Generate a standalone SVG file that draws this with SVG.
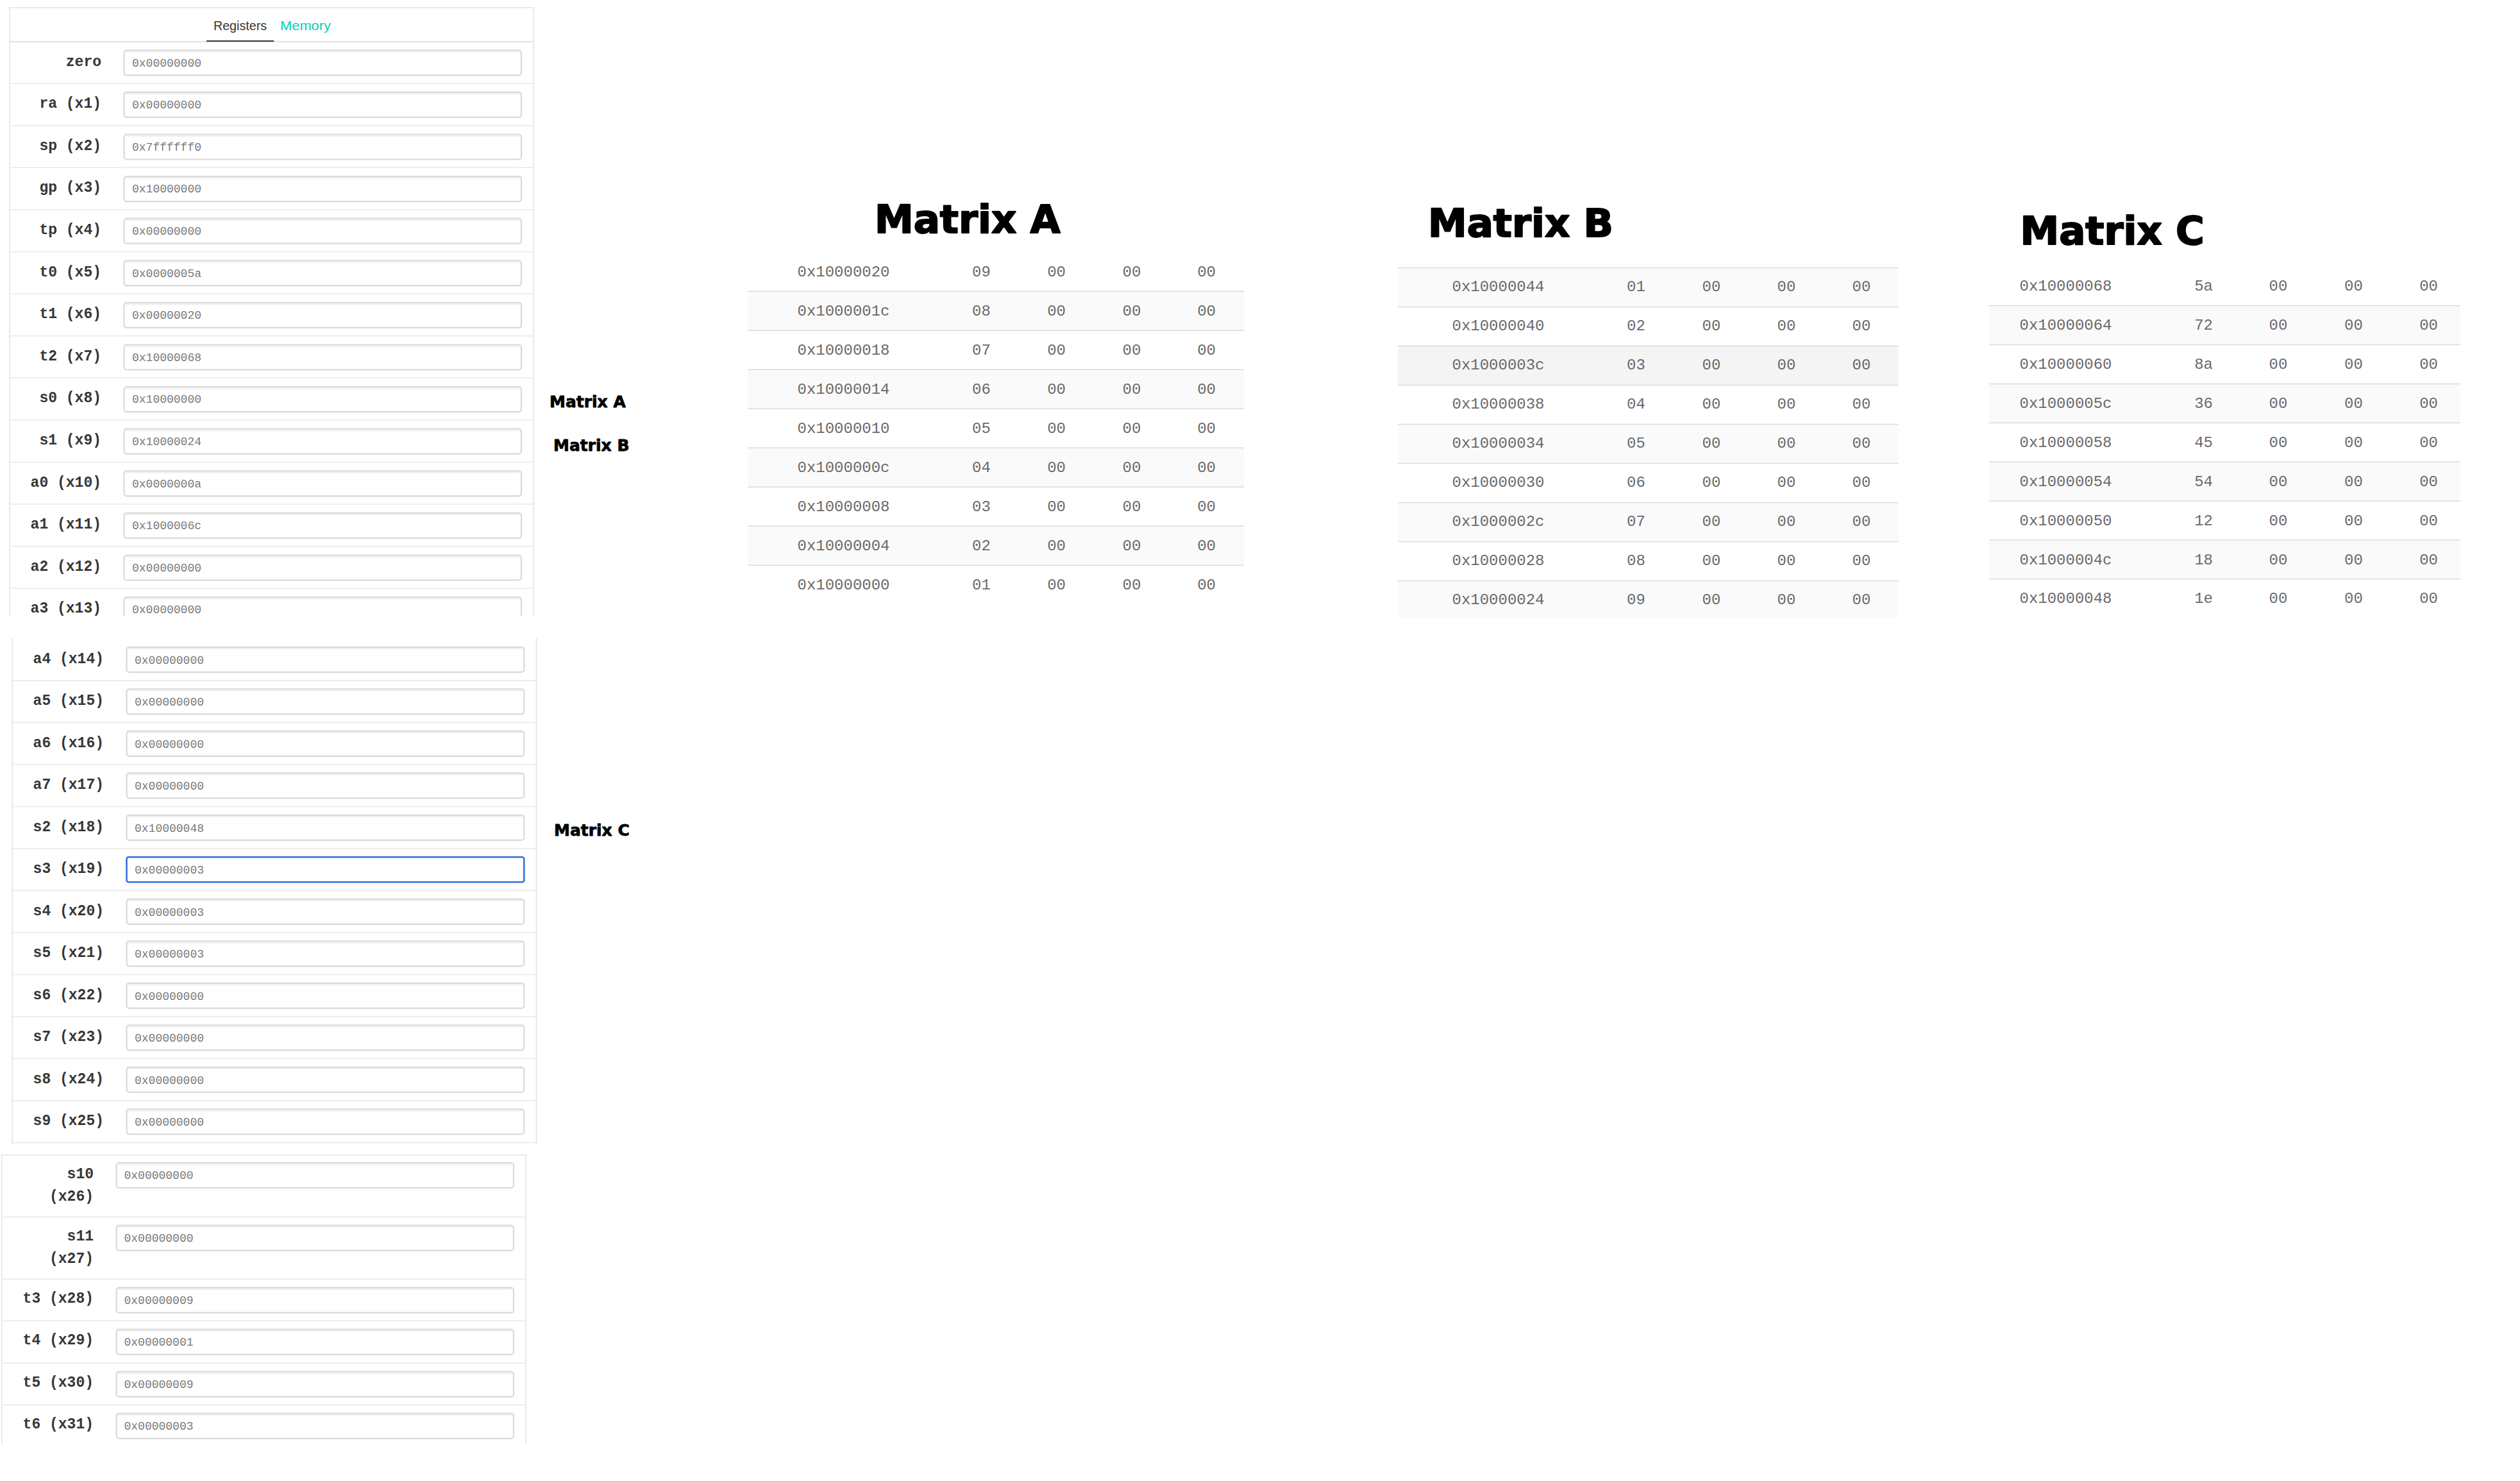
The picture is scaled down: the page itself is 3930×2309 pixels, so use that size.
<svg xmlns="http://www.w3.org/2000/svg" width="3930" height="2309" viewBox="0 0 3930 2309">
<style>
.bg{fill:#ffffff}
.pb{stroke:#e3e3e3;stroke-width:1.5;fill:none}
.sep{stroke:#e8e8e8;stroke-width:1.5}
.box{fill:#ffffff;stroke:#d9d9d9;stroke-width:2.2}
.boxf{fill:#ffffff;stroke:#3273dc;stroke-width:2.6}
.shd{stroke:#efefef;stroke-width:2}
.lbl{font-family:"Liberation Mono","DejaVu Sans Mono",monospace;font-weight:bold;font-size:23px;fill:#363636;text-anchor:end}
.val{font-family:"Liberation Mono","DejaVu Sans Mono",monospace;font-size:18px;fill:#7a7a7a}
.tab{font-family:"Liberation Sans",Arial,sans-serif;font-size:21px}
.ttl{font-family:"DejaVu Sans","Liberation Sans",sans-serif;font-weight:bold;font-size:61px;fill:#000;stroke:#000;stroke-width:2;stroke-linejoin:round}
.side{font-family:"DejaVu Sans","Liberation Sans",sans-serif;font-weight:bold;font-size:25px;fill:#000;stroke:#000;stroke-width:0.8;stroke-linejoin:round}
.mt{font-family:"Liberation Mono","DejaVu Sans Mono",monospace;font-size:24px;fill:#6a6a6a}
.mc{font-family:"Liberation Mono","DejaVu Sans Mono",monospace;font-size:24px;fill:#6a6a6a;text-anchor:middle}
.tl{stroke:#dbdbdb;stroke-width:1.5}
.st{fill:#fafafa}
.hv{fill:#f4f4f4}
</style>
<defs>
<clipPath id="clip1"><rect x="0" y="0" width="850" height="960"/></clipPath>
<clipPath id="clip3"><rect x="0" y="1795" width="850" height="457"/></clipPath>
</defs>
<rect class="bg" x="0" y="0" width="3930" height="2309"/>

<g id="registers-panel-1" clip-path="url(#clip1)">
<path class="pb" d="M15,960 V12 H832 V960"/>
<text class="tab" x="333" y="46.7" fill="#363636" textLength="83" lengthAdjust="spacingAndGlyphs">Registers</text>
<text class="tab" x="437" y="46.7" fill="#00d1b2" textLength="79" lengthAdjust="spacingAndGlyphs">Memory</text>
<line x1="15" y1="65" x2="832" y2="65" stroke="#e3e3e3" stroke-width="2"/>
<line x1="322" y1="64" x2="427" y2="64" stroke="#363636" stroke-width="2"/>
<g class="sep">
<line x1="15" y1="130.1" x2="832" y2="130.1"/><line x1="15" y1="195.7" x2="832" y2="195.7"/>
<line x1="15" y1="261.3" x2="832" y2="261.3"/><line x1="15" y1="326.9" x2="832" y2="326.9"/>
<line x1="15" y1="392.5" x2="832" y2="392.5"/><line x1="15" y1="458.1" x2="832" y2="458.1"/>
<line x1="15" y1="523.7" x2="832" y2="523.7"/><line x1="15" y1="589.3" x2="832" y2="589.3"/>
<line x1="15" y1="654.9" x2="832" y2="654.9"/><line x1="15" y1="720.5" x2="832" y2="720.5"/>
<line x1="15" y1="786.1" x2="832" y2="786.1"/><line x1="15" y1="851.7" x2="832" y2="851.7"/>
<line x1="15" y1="917.3" x2="832" y2="917.3"/>
</g>
<g id="reg-zero"><text class="lbl" x="158" y="102.5">zero</text><rect class="box" x="193.5" y="78.3" width="619.5" height="39" rx="4"/><line class="shd" x1="196" y1="80.8" x2="810.5" y2="80.8"/><text class="val" x="206" y="103.5">0x00000000</text></g>
<g id="reg-x1"><text class="lbl" x="158" y="168.1">ra (x1)</text><rect class="box" x="193.5" y="143.9" width="619.5" height="39" rx="4"/><line class="shd" x1="196" y1="146.4" x2="810.5" y2="146.4"/><text class="val" x="206" y="169.1">0x00000000</text></g>
<g id="reg-x2"><text class="lbl" x="158" y="233.7">sp (x2)</text><rect class="box" x="193.5" y="209.5" width="619.5" height="39" rx="4"/><line class="shd" x1="196" y1="212" x2="810.5" y2="212"/><text class="val" x="206" y="234.7">0x7ffffff0</text></g>
<g id="reg-x3"><text class="lbl" x="158" y="299.3">gp (x3)</text><rect class="box" x="193.5" y="275.1" width="619.5" height="39" rx="4"/><line class="shd" x1="196" y1="277.6" x2="810.5" y2="277.6"/><text class="val" x="206" y="300.3">0x10000000</text></g>
<g id="reg-x4"><text class="lbl" x="158" y="364.9">tp (x4)</text><rect class="box" x="193.5" y="340.7" width="619.5" height="39" rx="4"/><line class="shd" x1="196" y1="343.2" x2="810.5" y2="343.2"/><text class="val" x="206" y="365.9">0x00000000</text></g>
<g id="reg-x5"><text class="lbl" x="158" y="430.5">t0 (x5)</text><rect class="box" x="193.5" y="406.3" width="619.5" height="39" rx="4"/><line class="shd" x1="196" y1="408.8" x2="810.5" y2="408.8"/><text class="val" x="206" y="431.5">0x0000005a</text></g>
<g id="reg-x6"><text class="lbl" x="158" y="496.1">t1 (x6)</text><rect class="box" x="193.5" y="471.9" width="619.5" height="39" rx="4"/><line class="shd" x1="196" y1="474.4" x2="810.5" y2="474.4"/><text class="val" x="206" y="497.1">0x00000020</text></g>
<g id="reg-x7"><text class="lbl" x="158" y="561.7">t2 (x7)</text><rect class="box" x="193.5" y="537.5" width="619.5" height="39" rx="4"/><line class="shd" x1="196" y1="540" x2="810.5" y2="540"/><text class="val" x="206" y="562.7">0x10000068</text></g>
<g id="reg-x8"><text class="lbl" x="158" y="627.3">s0 (x8)</text><rect class="box" x="193.5" y="603.1" width="619.5" height="39" rx="4"/><line class="shd" x1="196" y1="605.6" x2="810.5" y2="605.6"/><text class="val" x="206" y="628.3">0x10000000</text></g>
<g id="reg-x9"><text class="lbl" x="158" y="692.9">s1 (x9)</text><rect class="box" x="193.5" y="668.7" width="619.5" height="39" rx="4"/><line class="shd" x1="196" y1="671.2" x2="810.5" y2="671.2"/><text class="val" x="206" y="693.9">0x10000024</text></g>
<g id="reg-x10"><text class="lbl" x="158" y="758.5">a0 (x10)</text><rect class="box" x="193.5" y="734.3" width="619.5" height="39" rx="4"/><line class="shd" x1="196" y1="736.8" x2="810.5" y2="736.8"/><text class="val" x="206" y="759.5">0x0000000a</text></g>
<g id="reg-x11"><text class="lbl" x="158" y="824.1">a1 (x11)</text><rect class="box" x="193.5" y="799.9" width="619.5" height="39" rx="4"/><line class="shd" x1="196" y1="802.4" x2="810.5" y2="802.4"/><text class="val" x="206" y="825.1">0x1000006c</text></g>
<g id="reg-x12"><text class="lbl" x="158" y="889.7">a2 (x12)</text><rect class="box" x="193.5" y="865.5" width="619.5" height="39" rx="4"/><line class="shd" x1="196" y1="868" x2="810.5" y2="868"/><text class="val" x="206" y="890.7">0x00000000</text></g>
<g id="reg-x13"><text class="lbl" x="158" y="955.3">a3 (x13)</text><rect class="box" x="193.5" y="931.1" width="619.5" height="39" rx="4"/><line class="shd" x1="196" y1="933.6" x2="810.5" y2="933.6"/><text class="val" x="206" y="956.3">0x00000000</text></g>
</g>

<g id="registers-panel-2">
<path class="pb" d="M19.2,995.5 V1785 M836.5,995.5 V1785"/>
<g class="sep">
<line x1="19.2" y1="1061" x2="836.5" y2="1061"/><line x1="19.2" y1="1126.5" x2="836.5" y2="1126.5"/>
<line x1="19.2" y1="1192" x2="836.5" y2="1192"/><line x1="19.2" y1="1257.5" x2="836.5" y2="1257.5"/>
<line x1="19.2" y1="1323" x2="836.5" y2="1323"/><line x1="19.2" y1="1388.5" x2="836.5" y2="1388.5"/>
<line x1="19.2" y1="1454" x2="836.5" y2="1454"/><line x1="19.2" y1="1519.5" x2="836.5" y2="1519.5"/>
<line x1="19.2" y1="1585" x2="836.5" y2="1585"/><line x1="19.2" y1="1650.5" x2="836.5" y2="1650.5"/>
<line x1="19.2" y1="1716" x2="836.5" y2="1716"/><line x1="19.2" y1="1781.5" x2="836.5" y2="1781.5"/>
</g>
<g id="reg-x14"><text class="lbl" x="162" y="1033.5">a4 (x14)</text><rect class="box" x="197.5" y="1008.8" width="619.8" height="39" rx="4"/><line class="shd" x1="200" y1="1011.3" x2="814.8" y2="1011.3"/><text class="val" x="210" y="1034.5">0x00000000</text></g>
<g id="reg-x15"><text class="lbl" x="162" y="1099">a5 (x15)</text><rect class="box" x="197.5" y="1074.3" width="619.8" height="39" rx="4"/><line class="shd" x1="200" y1="1076.8" x2="814.8" y2="1076.8"/><text class="val" x="210" y="1100">0x00000000</text></g>
<g id="reg-x16"><text class="lbl" x="162" y="1164.5">a6 (x16)</text><rect class="box" x="197.5" y="1139.8" width="619.8" height="39" rx="4"/><line class="shd" x1="200" y1="1142.3" x2="814.8" y2="1142.3"/><text class="val" x="210" y="1165.5">0x00000000</text></g>
<g id="reg-x17"><text class="lbl" x="162" y="1230">a7 (x17)</text><rect class="box" x="197.5" y="1205.3" width="619.8" height="39" rx="4"/><line class="shd" x1="200" y1="1207.8" x2="814.8" y2="1207.8"/><text class="val" x="210" y="1231">0x00000000</text></g>
<g id="reg-x18"><text class="lbl" x="162" y="1295.5">s2 (x18)</text><rect class="box" x="197.5" y="1270.8" width="619.8" height="39" rx="4"/><line class="shd" x1="200" y1="1273.3" x2="814.8" y2="1273.3"/><text class="val" x="210" y="1296.5">0x10000048</text></g>
<g id="reg-x19"><text class="lbl" x="162" y="1361">s3 (x19)</text><rect class="boxf" x="197.5" y="1336.3" width="619.8" height="39" rx="3"/><text class="val" x="210" y="1362">0x00000003</text></g>
<g id="reg-x20"><text class="lbl" x="162" y="1426.5">s4 (x20)</text><rect class="box" x="197.5" y="1401.8" width="619.8" height="39" rx="4"/><line class="shd" x1="200" y1="1404.3" x2="814.8" y2="1404.3"/><text class="val" x="210" y="1427.5">0x00000003</text></g>
<g id="reg-x21"><text class="lbl" x="162" y="1492">s5 (x21)</text><rect class="box" x="197.5" y="1467.3" width="619.8" height="39" rx="4"/><line class="shd" x1="200" y1="1469.8" x2="814.8" y2="1469.8"/><text class="val" x="210" y="1493">0x00000003</text></g>
<g id="reg-x22"><text class="lbl" x="162" y="1557.5">s6 (x22)</text><rect class="box" x="197.5" y="1532.8" width="619.8" height="39" rx="4"/><line class="shd" x1="200" y1="1535.3" x2="814.8" y2="1535.3"/><text class="val" x="210" y="1558.5">0x00000000</text></g>
<g id="reg-x23"><text class="lbl" x="162" y="1623">s7 (x23)</text><rect class="box" x="197.5" y="1598.3" width="619.8" height="39" rx="4"/><line class="shd" x1="200" y1="1600.8" x2="814.8" y2="1600.8"/><text class="val" x="210" y="1624">0x00000000</text></g>
<g id="reg-x24"><text class="lbl" x="162" y="1688.5">s8 (x24)</text><rect class="box" x="197.5" y="1663.8" width="619.8" height="39" rx="4"/><line class="shd" x1="200" y1="1666.3" x2="814.8" y2="1666.3"/><text class="val" x="210" y="1689.5">0x00000000</text></g>
<g id="reg-x25"><text class="lbl" x="162" y="1754">s9 (x25)</text><rect class="box" x="197.5" y="1729.3" width="619.8" height="39" rx="4"/><line class="shd" x1="200" y1="1731.8" x2="814.8" y2="1731.8"/><text class="val" x="210" y="1755">0x00000000</text></g>
</g>

<g id="registers-panel-3" clip-path="url(#clip3)">
<path class="pb" d="M2.7,2252 V1800.7 H820 V2252"/>
<g class="sep">
<line x1="2.7" y1="1897.5" x2="820" y2="1897.5"/><line x1="2.7" y1="1994.3" x2="820" y2="1994.3"/>
<line x1="2.7" y1="2059.3" x2="820" y2="2059.3"/><line x1="2.7" y1="2125.3" x2="820" y2="2125.3"/>
<line x1="2.7" y1="2190.3" x2="820" y2="2190.3"/>
</g>
<g id="reg-x26"><text class="lbl" x="146" y="1836.7">s10</text><text class="lbl" x="146" y="1871.7">(x26)</text><rect class="box" x="181.6" y="1813" width="619.4" height="39" rx="4"/><line class="shd" x1="184" y1="1815.5" x2="798.5" y2="1815.5"/><text class="val" x="193.5" y="1838">0x00000000</text></g>
<g id="reg-x27"><text class="lbl" x="146" y="1933.5">s11</text><text class="lbl" x="146" y="1968.5">(x27)</text><rect class="box" x="181.6" y="1910.7" width="619.4" height="39" rx="4"/><line class="shd" x1="184" y1="1913.2" x2="798.5" y2="1913.2"/><text class="val" x="193.5" y="1935.7">0x00000000</text></g>
<g id="reg-x28"><text class="lbl" x="146" y="2031.3">t3 (x28)</text><rect class="box" x="181.6" y="2007.7" width="619.4" height="39" rx="4"/><line class="shd" x1="184" y1="2010.2" x2="798.5" y2="2010.2"/><text class="val" x="193.5" y="2032.7">0x00000009</text></g>
<g id="reg-x29"><text class="lbl" x="146" y="2096.3">t4 (x29)</text><rect class="box" x="181.6" y="2072.7" width="619.4" height="39" rx="4"/><line class="shd" x1="184" y1="2075.2" x2="798.5" y2="2075.2"/><text class="val" x="193.5" y="2097.7">0x00000001</text></g>
<g id="reg-x30"><text class="lbl" x="146" y="2162.3">t5 (x30)</text><rect class="box" x="181.6" y="2138.7" width="619.4" height="39" rx="4"/><line class="shd" x1="184" y1="2141.2" x2="798.5" y2="2141.2"/><text class="val" x="193.5" y="2163.7">0x00000009</text></g>
<g id="reg-x31"><text class="lbl" x="146" y="2227.3">t6 (x31)</text><rect class="box" x="181.6" y="2203.7" width="619.4" height="39" rx="4"/><line class="shd" x1="184" y1="2206.2" x2="798.5" y2="2206.2"/><text class="val" x="193.5" y="2228.7">0x00000003</text></g>
</g>

<g id="side-labels">
<text class="side" x="857" y="635.4">Matrix A</text>
<text class="side" x="863" y="702.8">Matrix B</text>
<text class="side" x="864" y="1303">Matrix C</text>
</g>

<g id="matrix-a">
<text class="ttl" x="1364" y="362.7">Matrix A</text>
<rect class="st" x="1166" y="454.3" width="774" height="61"/>
<rect class="st" x="1166" y="576.3" width="774" height="61"/>
<rect class="st" x="1166" y="698.3" width="774" height="61"/>
<rect class="st" x="1166" y="820.3" width="774" height="61"/>
<g class="tl">
<line x1="1166" y1="454.3" x2="1940" y2="454.3"/><line x1="1166" y1="515.3" x2="1940" y2="515.3"/>
<line x1="1166" y1="576.3" x2="1940" y2="576.3"/><line x1="1166" y1="637.3" x2="1940" y2="637.3"/>
<line x1="1166" y1="698.3" x2="1940" y2="698.3"/><line x1="1166" y1="759.3" x2="1940" y2="759.3"/>
<line x1="1166" y1="820.3" x2="1940" y2="820.3"/><line x1="1166" y1="881.3" x2="1940" y2="881.3"/>
</g>
<g id="ma-r0"><text class="mt" x="1243.5" y="430.6">0x10000020</text><text class="mc" x="1530.5" y="430.6">09</text><text class="mc" x="1647.6" y="430.6">00</text><text class="mc" x="1765" y="430.6">00</text><text class="mc" x="1881.6" y="430.6">00</text></g>
<g id="ma-r1"><text class="mt" x="1243.5" y="491.6">0x1000001c</text><text class="mc" x="1530.5" y="491.6">08</text><text class="mc" x="1647.6" y="491.6">00</text><text class="mc" x="1765" y="491.6">00</text><text class="mc" x="1881.6" y="491.6">00</text></g>
<g id="ma-r2"><text class="mt" x="1243.5" y="552.6">0x10000018</text><text class="mc" x="1530.5" y="552.6">07</text><text class="mc" x="1647.6" y="552.6">00</text><text class="mc" x="1765" y="552.6">00</text><text class="mc" x="1881.6" y="552.6">00</text></g>
<g id="ma-r3"><text class="mt" x="1243.5" y="613.6">0x10000014</text><text class="mc" x="1530.5" y="613.6">06</text><text class="mc" x="1647.6" y="613.6">00</text><text class="mc" x="1765" y="613.6">00</text><text class="mc" x="1881.6" y="613.6">00</text></g>
<g id="ma-r4"><text class="mt" x="1243.5" y="674.6">0x10000010</text><text class="mc" x="1530.5" y="674.6">05</text><text class="mc" x="1647.6" y="674.6">00</text><text class="mc" x="1765" y="674.6">00</text><text class="mc" x="1881.6" y="674.6">00</text></g>
<g id="ma-r5"><text class="mt" x="1243.5" y="735.6">0x1000000c</text><text class="mc" x="1530.5" y="735.6">04</text><text class="mc" x="1647.6" y="735.6">00</text><text class="mc" x="1765" y="735.6">00</text><text class="mc" x="1881.6" y="735.6">00</text></g>
<g id="ma-r6"><text class="mt" x="1243.5" y="796.6">0x10000008</text><text class="mc" x="1530.5" y="796.6">03</text><text class="mc" x="1647.6" y="796.6">00</text><text class="mc" x="1765" y="796.6">00</text><text class="mc" x="1881.6" y="796.6">00</text></g>
<g id="ma-r7"><text class="mt" x="1243.5" y="857.6">0x10000004</text><text class="mc" x="1530.5" y="857.6">02</text><text class="mc" x="1647.6" y="857.6">00</text><text class="mc" x="1765" y="857.6">00</text><text class="mc" x="1881.6" y="857.6">00</text></g>
<g id="ma-r8"><text class="mt" x="1243.5" y="918.6">0x10000000</text><text class="mc" x="1530.5" y="918.6">01</text><text class="mc" x="1647.6" y="918.6">00</text><text class="mc" x="1765" y="918.6">00</text><text class="mc" x="1881.6" y="918.6">00</text></g>
</g>

<g id="matrix-b">
<text class="ttl" x="2227" y="369.2">Matrix B</text>
<rect class="st" x="2180" y="417.4" width="780.5" height="61"/>
<rect class="hv" x="2180" y="539.4" width="780.5" height="61"/>
<rect class="st" x="2180" y="661.4" width="780.5" height="61"/>
<rect class="st" x="2180" y="783.4" width="780.5" height="61"/>
<rect class="st" x="2180" y="905.4" width="780.5" height="56.6"/>
<g class="tl">
<line x1="2180" y1="417.4" x2="2960.5" y2="417.4"/><line x1="2180" y1="478.4" x2="2960.5" y2="478.4"/>
<line x1="2180" y1="539.4" x2="2960.5" y2="539.4"/><line x1="2180" y1="600.4" x2="2960.5" y2="600.4"/>
<line x1="2180" y1="661.4" x2="2960.5" y2="661.4"/><line x1="2180" y1="722.4" x2="2960.5" y2="722.4"/>
<line x1="2180" y1="783.4" x2="2960.5" y2="783.4"/><line x1="2180" y1="844.4" x2="2960.5" y2="844.4"/>
<line x1="2180" y1="905.4" x2="2960.5" y2="905.4"/>
</g>
<g id="mb-r0"><text class="mt" x="2264.5" y="454.3">0x10000044</text><text class="mc" x="2551.5" y="454.3">01</text><text class="mc" x="2669" y="454.3">00</text><text class="mc" x="2786" y="454.3">00</text><text class="mc" x="2903" y="454.3">00</text></g>
<g id="mb-r1"><text class="mt" x="2264.5" y="515.3">0x10000040</text><text class="mc" x="2551.5" y="515.3">02</text><text class="mc" x="2669" y="515.3">00</text><text class="mc" x="2786" y="515.3">00</text><text class="mc" x="2903" y="515.3">00</text></g>
<g id="mb-r2"><text class="mt" x="2264.5" y="576.3">0x1000003c</text><text class="mc" x="2551.5" y="576.3">03</text><text class="mc" x="2669" y="576.3">00</text><text class="mc" x="2786" y="576.3">00</text><text class="mc" x="2903" y="576.3">00</text></g>
<g id="mb-r3"><text class="mt" x="2264.5" y="637.3">0x10000038</text><text class="mc" x="2551.5" y="637.3">04</text><text class="mc" x="2669" y="637.3">00</text><text class="mc" x="2786" y="637.3">00</text><text class="mc" x="2903" y="637.3">00</text></g>
<g id="mb-r4"><text class="mt" x="2264.5" y="698.3">0x10000034</text><text class="mc" x="2551.5" y="698.3">05</text><text class="mc" x="2669" y="698.3">00</text><text class="mc" x="2786" y="698.3">00</text><text class="mc" x="2903" y="698.3">00</text></g>
<g id="mb-r5"><text class="mt" x="2264.5" y="759.3">0x10000030</text><text class="mc" x="2551.5" y="759.3">06</text><text class="mc" x="2669" y="759.3">00</text><text class="mc" x="2786" y="759.3">00</text><text class="mc" x="2903" y="759.3">00</text></g>
<g id="mb-r6"><text class="mt" x="2264.5" y="820.3">0x1000002c</text><text class="mc" x="2551.5" y="820.3">07</text><text class="mc" x="2669" y="820.3">00</text><text class="mc" x="2786" y="820.3">00</text><text class="mc" x="2903" y="820.3">00</text></g>
<g id="mb-r7"><text class="mt" x="2264.5" y="881.3">0x10000028</text><text class="mc" x="2551.5" y="881.3">08</text><text class="mc" x="2669" y="881.3">00</text><text class="mc" x="2786" y="881.3">00</text><text class="mc" x="2903" y="881.3">00</text></g>
<g id="mb-r8"><text class="mt" x="2264.5" y="942.3">0x10000024</text><text class="mc" x="2551.5" y="942.3">09</text><text class="mc" x="2669" y="942.3">00</text><text class="mc" x="2786" y="942.3">00</text><text class="mc" x="2903" y="942.3">00</text></g>
</g>

<g id="matrix-c">
<text class="ttl" x="3150.5" y="381.2">Matrix C</text>
<rect class="st" x="3102" y="476.6" width="735" height="60.9"/>
<rect class="st" x="3102" y="598.4" width="735" height="60.9"/>
<rect class="st" x="3102" y="720.2" width="735" height="60.9"/>
<rect class="st" x="3102" y="842" width="735" height="60.9"/>
<g class="tl">
<line x1="3102" y1="476.6" x2="3837" y2="476.6"/><line x1="3102" y1="537.5" x2="3837" y2="537.5"/>
<line x1="3102" y1="598.4" x2="3837" y2="598.4"/><line x1="3102" y1="659.3" x2="3837" y2="659.3"/>
<line x1="3102" y1="720.2" x2="3837" y2="720.2"/><line x1="3102" y1="781.1" x2="3837" y2="781.1"/>
<line x1="3102" y1="842" x2="3837" y2="842"/><line x1="3102" y1="902.9" x2="3837" y2="902.9"/>
</g>
<g id="mc-r0"><text class="mt" x="3149.5" y="453.2">0x10000068</text><text class="mc" x="3436.6" y="453.2">5a</text><text class="mc" x="3553" y="453.2">00</text><text class="mc" x="3670.5" y="453.2">00</text><text class="mc" x="3787.6" y="453.2">00</text></g>
<g id="mc-r1"><text class="mt" x="3149.5" y="514.1">0x10000064</text><text class="mc" x="3436.6" y="514.1">72</text><text class="mc" x="3553" y="514.1">00</text><text class="mc" x="3670.5" y="514.1">00</text><text class="mc" x="3787.6" y="514.1">00</text></g>
<g id="mc-r2"><text class="mt" x="3149.5" y="575">0x10000060</text><text class="mc" x="3436.6" y="575">8a</text><text class="mc" x="3553" y="575">00</text><text class="mc" x="3670.5" y="575">00</text><text class="mc" x="3787.6" y="575">00</text></g>
<g id="mc-r3"><text class="mt" x="3149.5" y="635.9">0x1000005c</text><text class="mc" x="3436.6" y="635.9">36</text><text class="mc" x="3553" y="635.9">00</text><text class="mc" x="3670.5" y="635.9">00</text><text class="mc" x="3787.6" y="635.9">00</text></g>
<g id="mc-r4"><text class="mt" x="3149.5" y="696.8">0x10000058</text><text class="mc" x="3436.6" y="696.8">45</text><text class="mc" x="3553" y="696.8">00</text><text class="mc" x="3670.5" y="696.8">00</text><text class="mc" x="3787.6" y="696.8">00</text></g>
<g id="mc-r5"><text class="mt" x="3149.5" y="757.7">0x10000054</text><text class="mc" x="3436.6" y="757.7">54</text><text class="mc" x="3553" y="757.7">00</text><text class="mc" x="3670.5" y="757.7">00</text><text class="mc" x="3787.6" y="757.7">00</text></g>
<g id="mc-r6"><text class="mt" x="3149.5" y="818.6">0x10000050</text><text class="mc" x="3436.6" y="818.6">12</text><text class="mc" x="3553" y="818.6">00</text><text class="mc" x="3670.5" y="818.6">00</text><text class="mc" x="3787.6" y="818.6">00</text></g>
<g id="mc-r7"><text class="mt" x="3149.5" y="879.5">0x1000004c</text><text class="mc" x="3436.6" y="879.5">18</text><text class="mc" x="3553" y="879.5">00</text><text class="mc" x="3670.5" y="879.5">00</text><text class="mc" x="3787.6" y="879.5">00</text></g>
<g id="mc-r8"><text class="mt" x="3149.5" y="940.4">0x10000048</text><text class="mc" x="3436.6" y="940.4">1e</text><text class="mc" x="3553" y="940.4">00</text><text class="mc" x="3670.5" y="940.4">00</text><text class="mc" x="3787.6" y="940.4">00</text></g>
</g>

<g id="connectors"></g>
</svg>
